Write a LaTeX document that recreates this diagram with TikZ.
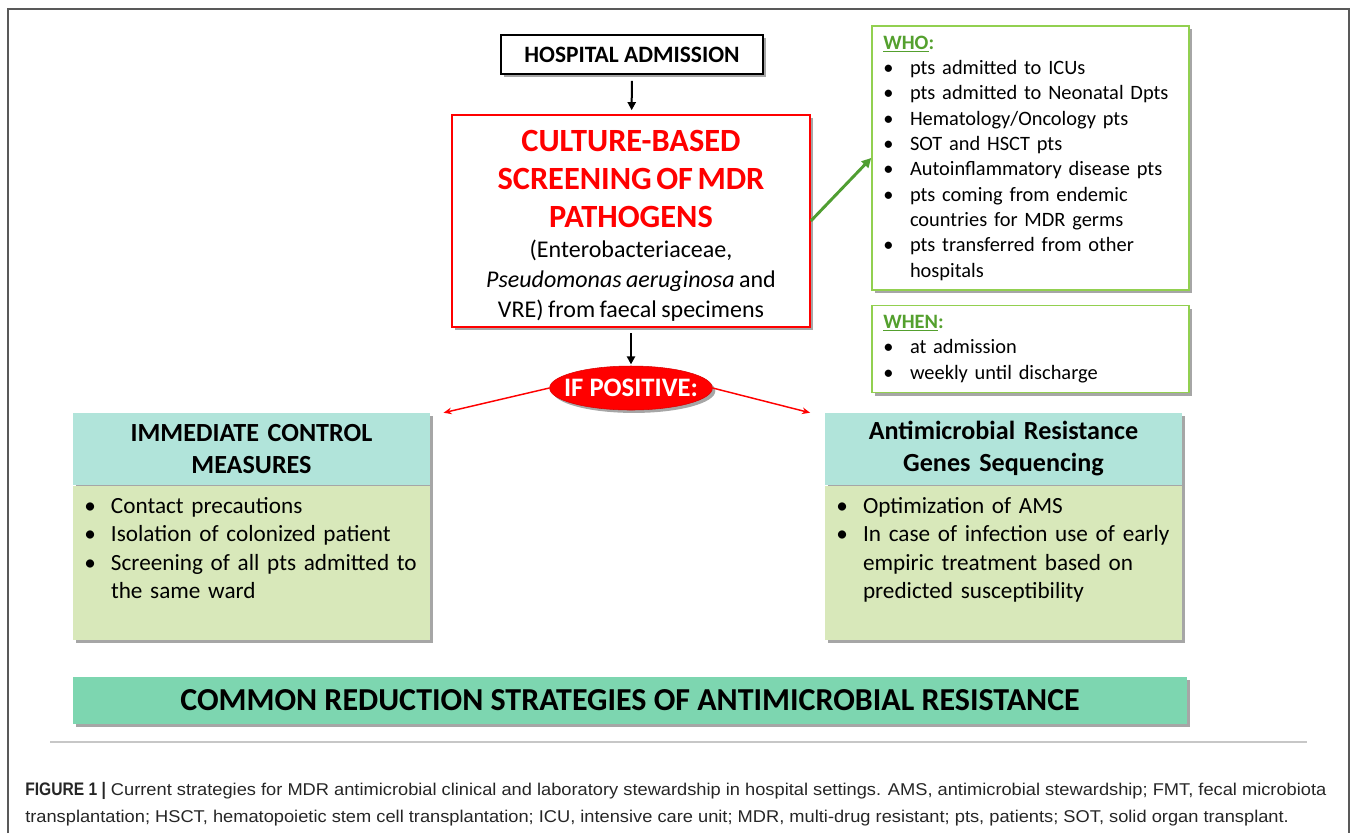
\documentclass[tikz,border=0pt]{standalone}
\usepackage{fontspec}
\setmainfont{Carlito}
\newfontfamily\capfont[FakeStretch=1.07]{Liberation Sans}
\newfontfamily\capboldfont[FakeStretch=0.86]{Liberation Sans Bold}
\usetikzlibrary{arrows.meta,positioning,shapes.geometric,shadows}

\definecolor{hdrteal}{RGB}{177,228,218}
\definecolor{bodygreen}{RGB}{216,232,186}
\definecolor{bandgreen}{RGB}{125,214,176}
\definecolor{wholine}{RGB}{146,208,80}
\definecolor{whotext}{RGB}{84,160,46}
\definecolor{arrowgreen}{RGB}{80,158,50}
\definecolor{alertred}{RGB}{255,0,0}

\hyphenpenalty=10000
% bullet line with hanging indent
\newcommand{\itm}{\par\noindent\hangindent=20pt\hangafter=1\makebox[20pt][l]{\textbullet}}

\begin{document}
\begin{tikzpicture}[
  x=0.75pt, y=-0.75pt,
  shadowed/.style={drop shadow={shadow xshift=2.2pt,shadow yshift=-2.2pt,opacity=.35,fill=black}},
  box/.style={draw,line width=1.2pt,shadowed,inner sep=0pt,align=center},
  listbox/.style={draw=wholine,line width=1.2pt,fill=white,shadowed,align=left,
    text width=220.75pt,inner xsep=8.5pt,inner ysep=4pt,font=\fontsize{15.3}{19}\selectfont},
  hdr/.style={fill=hdrteal,shadowed,minimum width=267.75pt,minimum height=54pt,
    text width=255pt,align=center,inner sep=0pt,font=\bfseries\fontsize{19.6}{24}\selectfont},
  body/.style={fill=bodygreen,shadowed,minimum width=267.75pt,text width=250.75pt,
    inner xsep=8.5pt,inner ysep=9pt,align=left,font=\fontsize{17.4}{21.2}\selectfont},
  >={Triangle[width=6pt,length=6pt]}]
\useasboundingbox (0,0) rectangle (1358,833);
\draw[line width=1pt,black!65] (8,833) -- (8,9) -- (1349,9) -- (1349,833);

% top of the flow
\node[box,fill=white,minimum width=196.5pt,minimum height=29.25pt,
  font=\bfseries\fontsize{17.6}{20}\selectfont] (hosp) at (632,54.5) {HOSPITAL ADMISSION};
\node[box,draw=alertred,fill=white,minimum width=268.5pt,minimum height=159pt,text width=266pt] (screen) at (631,221)
  {\parbox{\linewidth}{\centering\vspace*{7pt}
   {\color{alertred}\bfseries\fontsize{24.3}{28.5}\selectfont CULTURE-BASED\\SCREENING OF MDR\\PATHOGENS\par}
   {\fontsize{18}{22.5}\selectfont (Enterobacteriaceae,\\\textit{Pseudomonas aeruginosa} and\\VRE) from faecal specimens\par}}};
\draw[->,line width=1.5pt,shorten <=4.5pt,shorten >=3pt] (hosp) -- (screen);

% who / when
\node[listbox,minimum height=198pt] (who) at (1030.5,158)
  {\textcolor{whotext}{\bfseries\underline{WHO}:}
   \itm pts admitted to ICUs
   \itm pts admitted to Neonatal Dpts
   \itm Hematology/Oncology pts
   \itm SOT and HSCT pts
   \itm Autoinflammatory disease pts
   \itm pts coming from endemic\newline countries for MDR germs
   \itm pts transferred from other\newline hospitals\par};
\node[listbox,minimum height=65.25pt,below=10.5pt of who] (when)
  {\textcolor{whotext}{\bfseries\underline{WHEN}:}
   \itm at admission
   \itm weekly until discharge\par};
\draw[-{Triangle[width=7pt,length=7pt]},line width=2.2pt,arrowgreen] (screen.east) -- (who.west);

% branch
\node[ellipse,fill=alertred,draw=red!85!black,shadowed,minimum width=120pt,minimum height=33pt,
  inner xsep=-7pt,inner ysep=0pt,
  text=white,font=\bfseries\fontsize{20}{22}\selectfont] (pos) at (631,388) {IF POSITIVE:};
\draw[->,line width=1.5pt,shorten <=4pt,shorten >=1pt] (screen) -- (pos);

\node[hdr] (hdrL) at (251.5,449) {IMMEDIATE CONTROL\\MEASURES};
\node[body,below=0pt of hdrL] (bodyL) {\parbox[c][98pt][t]{\linewidth}{\raggedright
  \itm Contact precautions
  \itm Isolation of colonized patient
  \itm Screening of all pts admitted to\newline the same ward\par}};
\node[hdr] (hdrR) at (1003.5,449) {Antimicrobial Resistance\\Genes Sequencing};
\node[body,below=0pt of hdrR] (bodyR) {\parbox[c][98pt][t]{\linewidth}{\raggedright
  \itm Optimization of AMS
  \itm In case of infection use of early\newline empiric treatment based on\newline predicted susceptibility\par}};

\draw[-{Stealth[width=5pt,length=6pt]},line width=1.1pt,alertred] (pos.west) -- ([xshift=10pt]hdrL.north east);
\draw[-{Stealth[width=5pt,length=6pt]},line width=1.1pt,alertred] (pos.east) -- ([xshift=-11pt]hdrR.north west);

% bottom band and caption
\node[fill=bandgreen,shadowed,minimum width=835.5pt,minimum height=35.25pt,
  font=\bfseries\fontsize{24}{26}\selectfont] (band) at (630,700.5)
  {COMMON REDUCTION STRATEGIES OF ANTIMICROBIAL RESISTANCE};
\draw[line width=1.5pt,black!22] (50,742) -- (1307,742);
\node[anchor=west,align=left,inner sep=0pt,text=black!85,
  font=\capfont\fontsize{12.8}{20.3}\selectfont] (caption) at (25,804.5)
  {{\capboldfont\fontsize{13.6}{20.3}\selectfont FIGURE 1 |} Current strategies for MDR antimicrobial clinical and laboratory stewardship in hospital settings. AMS, antimicrobial stewardship; FMT, fecal microbiota\\
   transplantation; HSCT, hematopoietic stem cell transplantation; ICU, intensive care unit; MDR, multi-drug resistant; pts, patients; SOT, solid organ transplant.};
\end{tikzpicture}
\end{document}
